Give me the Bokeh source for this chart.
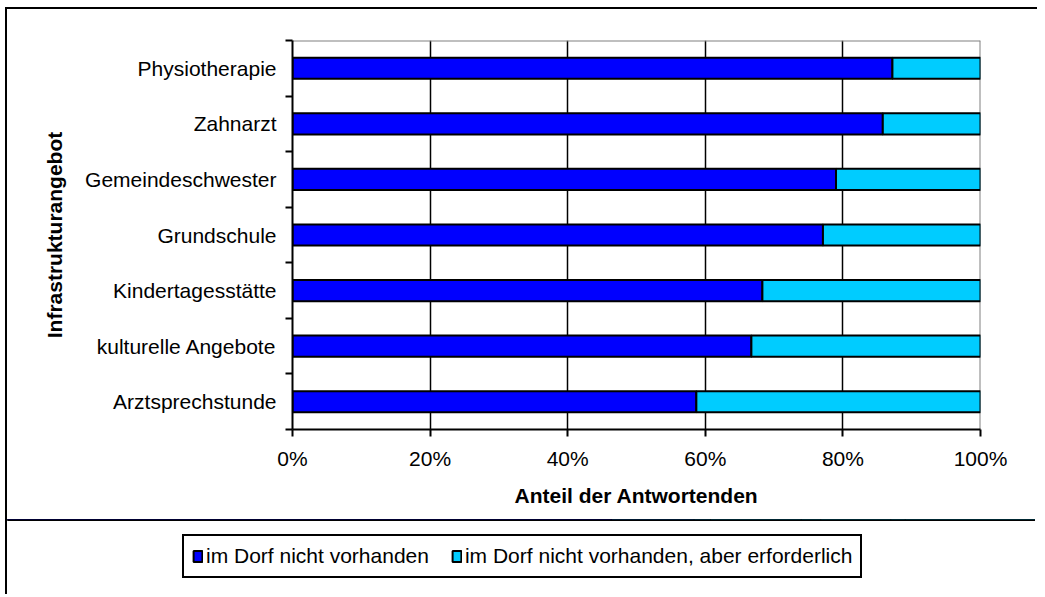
from bokeh.plotting import figure
from bokeh.models import FixedTicker, Span, Legend, LegendItem, ColumnDataSource, Range1d
from bokeh.embed import file_html
from bokeh.resources import INLINE

# ---- data (bottom to top) ----
categories = ["Arztsprechstunde", "kulturelle Angebote", "Kindertagesstätte",
              "Grundschule", "Gemeindeschwester", "Zahnarzt", "Physiotherapie"]
nicht_vorhanden = [58.7, 66.7, 68.3, 77.1, 79.0, 85.8, 87.2]
erforderlich = [41.3, 33.3, 31.7, 22.9, 21.0, 14.2, 12.8]
series_names = ["im Dorf nicht vorhanden", "im Dorf nicht vorhanden, aber erforderlich"]
series_colors = ["#0000FF", "#00CCFF"]
x_ticks = [0, 20, 40, 60, 80, 100]
x_tick_labels = ["0%", "20%", "40%", "60%", "80%", "100%"]
x_title = "Anteil der Antwortenden"
y_title = "Infrastrukturangebot"

FONT = "Liberation Sans"
FS = "21px"

n = len(categories)
ypos = [i + 0.5 for i in range(n)]
source = ColumnDataSource(dict(y=ypos, a=nicht_vorhanden, b=erforderlich))

p = figure(frame_width=688, frame_height=389,
           min_border_left=285, min_border_top=31, min_border_right=57, min_border_bottom=90,
           x_range=Range1d(0, 100), y_range=Range1d(0, n),
           output_backend="svg", toolbar_location=None)
p.styles = {"border-style": "solid", "border-color": "black", "border-width": "2px 0px 0px 2px",
            "margin-left": "5px", "margin-top": "7px"}
p.outline_line_color = None
p.background_fill_color = "white"
p.border_fill_color = "white"

# grid
p.ygrid.visible = False
p.xgrid.ticker = FixedTicker(ticks=x_ticks[1:-1])
p.xgrid.grid_line_color = "black"
p.xgrid.grid_line_width = 1.5

# plot area top/right border (gray)
p.add_layout(Span(location=n, dimension="width", line_color="#808080", line_width=2, level="underlay"))
p.add_layout(Span(location=x_ticks[-1], dimension="height", line_color="#808080", line_width=2, level="underlay"))

rs = p.hbar_stack(["a", "b"], y="y", height=0.38, source=source,
                  fill_color=series_colors, line_color="black", line_width=2)

# x axis
xa = p.xaxis[0]
xa.ticker = FixedTicker(ticks=x_ticks, minor_ticks=[])
xa.major_label_overrides = {t: l for t, l in zip(x_ticks, x_tick_labels)}
xa.major_tick_out = 7
xa.major_tick_in = 0
xa.minor_tick_line_color = None
xa.axis_line_width = 2
xa.major_tick_line_width = 2
xa.major_label_text_font = FONT
xa.major_label_text_font_size = FS
xa.major_label_text_color = "black"
xa.major_label_standoff = 10
xa.axis_label = x_title
xa.axis_label_text_font = FONT
xa.axis_label_text_font_size = FS
xa.axis_label_text_font_style = "bold"
xa.axis_label_text_color = "black"
xa.axis_label_standoff = 11

# y axis
ya = p.yaxis[0]
ya.ticker = FixedTicker(ticks=ypos, minor_ticks=list(range(n + 1)))
ya.major_label_overrides = {y: c for y, c in zip(ypos, categories)}
ya.major_tick_out = 0
ya.major_tick_in = 0
ya.minor_tick_out = 7
ya.minor_tick_in = 0
ya.minor_tick_line_color = "black"
ya.minor_tick_line_width = 2
ya.axis_line_width = 2
ya.major_label_text_font = FONT
ya.major_label_text_font_size = FS
ya.major_label_text_color = "black"
ya.major_label_standoff = 9
ya.axis_label = y_title
ya.axis_label_text_font = FONT
ya.axis_label_text_font_size = FS
ya.axis_label_text_font_style = "bold"
ya.axis_label_text_color = "black"
ya.axis_label_standoff = 16

# ---- legend strip below the chart (separate root, same series) ----
pl = figure(width=1030, height=75, min_border=0, x_axis_type=None, y_axis_type=None,
            x_range=Range1d(0, 100), y_range=Range1d(-20, -19),
            output_backend="svg", toolbar_location=None)
pl.styles = {"border-left": "2px solid black", "margin-left": "5px"}
pl.outline_line_color = None
pl.grid.visible = False
pl.background_fill_color = "white"
pl.border_fill_color = "white"
lr = pl.hbar_stack(["a", "b"], y="y", height=0.38, source=source,
                   fill_color=series_colors, line_color="black", line_width=2)

legend = Legend(items=[LegendItem(label=series_names[i], renderers=[lr[i]]) for i in range(2)],
                orientation="horizontal", location=(175, 16),
                border_line_color="black", border_line_width=2, border_line_alpha=1,
                padding=8, spacing=22, label_standoff=3, margin=0,
                glyph_width=11, glyph_height=14,
                label_text_font=FONT, label_text_font_size=FS, label_text_color="black",
                background_fill_color="white", background_fill_alpha=1)
pl.add_layout(legend, "center")

open("out.html", "w").write(file_html([p, pl], INLINE))
